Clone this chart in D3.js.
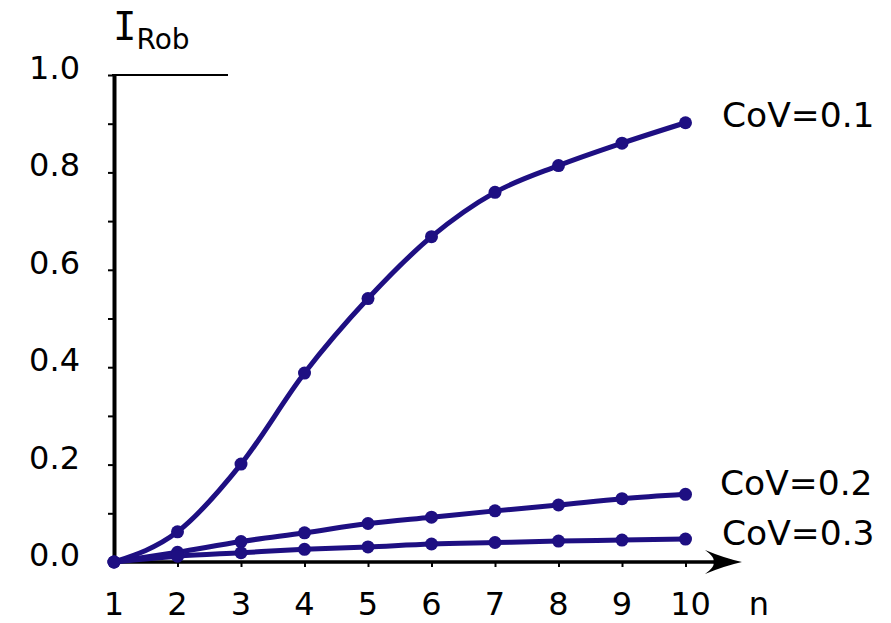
<!DOCTYPE html>
<html>
<head>
<meta charset="utf-8">
<script src="https://cdn.jsdelivr.net/npm/d3@7"></script>
<style>
  html, body { margin: 0; padding: 0; background: #fff; }
  svg { display: block; }
  text { font-family: "DejaVu Sans", Verdana, sans-serif; fill: #000; }
</style>
</head>
<body>
<svg id="chart" width="891" height="623"></svg>
<script>
const nValues = [1, 2, 3, 4, 5, 6, 7, 8, 9, 10];
const cov01 = [0, 0.062, 0.201, 0.388, 0.541, 0.668, 0.759, 0.814, 0.860, 0.902];
const cov02 = [0, 0.020, 0.042, 0.060, 0.079, 0.092, 0.105, 0.117, 0.130, 0.139];
const cov03 = [0, 0.012, 0.019, 0.026, 0.031, 0.037, 0.040, 0.043, 0.045, 0.047];
const seriesNames = ["CoV=0.1", "CoV=0.2", "CoV=0.3"];
const yTickLabels = [0, 0.2, 0.4, 0.6, 0.8, 1.0];
const yMinorTicks = [0, 0.1, 0.2, 0.3, 0.4, 0.5, 0.6, 0.7, 0.8, 0.9, 1.0];

const color = "#1e0f82";
const svg = d3.select("#chart");

const x = d3.scaleLinear().domain([1, 10]).range([114, 685.5]);
const y = d3.scaleLinear().domain([0, 1]).range([562, 75]);

// Y axis (minor ticks on left)
const yAxis = d3.axisLeft(y).tickValues(yMinorTicks).tickSize(6).tickFormat("").tickSizeOuter(0);
const gy = svg.append("g").attr("transform", `translate(${x(1)},0)`).call(yAxis);
gy.select(".domain").attr("stroke", "#000").attr("stroke-width", 4);
gy.selectAll(".tick line").attr("stroke", "#000").attr("stroke-width", 2);

// Y tick labels
svg.append("g").selectAll("text").data(yTickLabels).join("text")
  .attr("x", 80)
  .attr("y", d => y(d) + 4)
  .attr("text-anchor", "end")
  .attr("font-size", 32)
  .text(d => d3.format(".1f")(d));

// Top line
svg.append("line")
  .attr("x1", x(1) - 2).attr("x2", 228)
  .attr("y1", y(1)).attr("y2", y(1))
  .attr("stroke", "#000").attr("stroke-width", 2);

// X axis
const xAxis = d3.axisBottom(x).tickValues(nValues).tickSize(5).tickFormat("").tickSizeOuter(0);
const gx = svg.append("g").attr("transform", `translate(0,${y(0)})`).call(xAxis);
gx.select(".domain").remove();
gx.selectAll(".tick line").attr("stroke", "#000").attr("stroke-width", 2);
svg.append("line")
  .attr("x1", x(1) - 2).attr("x2", 716)
  .attr("y1", y(0)).attr("y2", y(0))
  .attr("stroke", "#000").attr("stroke-width", 3.5);
// Arrow head
const tipX = 742, ay = y(0);
svg.append("path")
  .attr("d", `M${tipX},${ay} Q${tipX - 18},${ay - 4} ${705},${ay - 12} Q${716},${ay - 4} ${713},${ay} Q${716},${ay + 4} ${705},${ay + 12} Q${tipX - 18},${ay + 4} ${tipX},${ay} Z`)
  .attr("fill", "#000");

// X tick labels
svg.append("g").selectAll("text").data(nValues).join("text")
  .attr("x", d => x(d) + (d === 10 ? 5 : 0))
  .attr("y", 615)
  .attr("text-anchor", "middle")
  .attr("font-size", 32)
  .text(d => d);
svg.append("text").attr("x", 759).attr("y", 615).attr("text-anchor", "middle")
  .attr("font-size", 32).text("n");

// Y axis title
const t = svg.append("text").attr("x", 113).attr("y", 39.5);
t.append("tspan").attr("font-family", "'DejaVu Sans Mono', monospace").attr("font-size", 39).text("I");
t.append("tspan").attr("font-size", 28).attr("dy", 9).text("Rob");

// Series
const allSeries = [cov01, cov02, cov03];
const line = d3.line().x((d, i) => x(nValues[i])).y(d => y(d)).curve(d3.curveMonotoneX);

allSeries.forEach(vals => {
  svg.append("path").datum(vals)
    .attr("d", line)
    .attr("fill", "none")
    .attr("stroke", color)
    .attr("stroke-width", 5)
    .attr("stroke-linejoin", "round");
});
allSeries.forEach(vals => {
  svg.append("g").selectAll("circle").data(vals).join("circle")
    .attr("cx", (d, i) => x(nValues[i]))
    .attr("cy", d => y(d))
    .attr("r", 6.5)
    .attr("fill", color);
});

// Series labels
const labelPos = [[722, 127], [720, 495], [722, 545]];
seriesNames.forEach((name, i) => {
  svg.append("text")
    .attr("x", labelPos[i][0]).attr("y", labelPos[i][1])
    .attr("font-size", 34.5)
    .text(name);
});
</script>
</body>
</html>
